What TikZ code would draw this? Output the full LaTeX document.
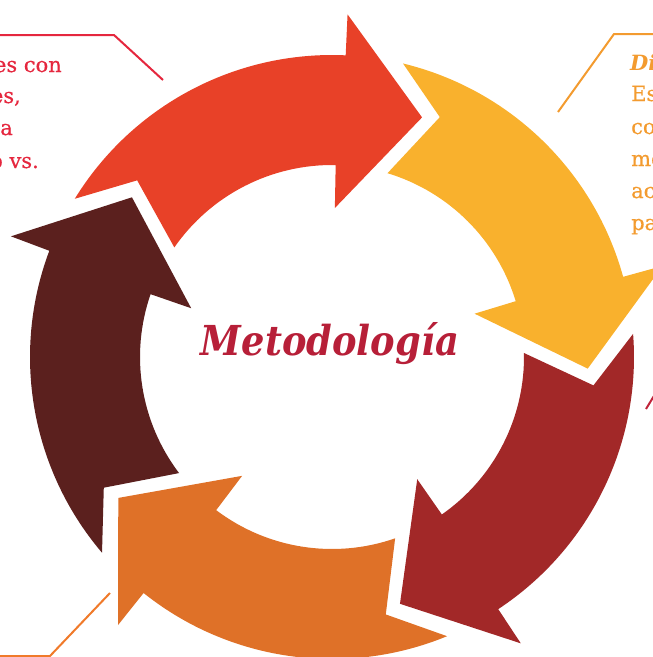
\documentclass[tikz,border=0pt]{standalone}
\usepackage{fontspec}
\setmainfont{DejaVu Serif}
\newfontface\bodyface{DejaVu Serif}[FakeBold=0.5]
\newfontface\bodyheadface{DejaVu Serif Bold Italic}
\definecolor{cRed}{HTML}{E84128}
\definecolor{cYellow}{HTML}{F9B12D}
\definecolor{cDarkRed}{HTML}{A22828}
\definecolor{cOrange}{HTML}{DF7128}
\definecolor{cBrown}{HTML}{5B201E}
\definecolor{cTitle}{HTML}{B71F38}
\definecolor{cPink}{HTML}{E5273E}
\definecolor{cAmber}{HTML}{F39B2F}
\definecolor{cLineOr}{HTML}{F07A2A}
\definecolor{cCrimson}{HTML}{C0243A}
\newcommand\cyclearrow[2]{%
  \fill[#2] (#1:302) arc[start angle=#1, end angle={#1-61}, radius=302]
    -- ({#1-61}:343) -- ({#1-79}:256) -- ({#1-59.5}:149) -- ({#1-59.5}:192)
    arc[start angle={#1-59.5}, end angle={#1-3.2}, radius=192]
    -- ({#1-10.6}:263) -- cycle;}
\begin{document}
\begin{tikzpicture}[x=1pt,y=1pt,
  bodytext/.style={font=\bodyface\fontsize{21}{32}\selectfont, inner sep=0pt},
  leader/.style={line width=2pt}]
\useasboundingbox (0,0) rectangle (653,-657);
\clip (0,0) rectangle (653,-657);
% cycle arrows
\begin{scope}[shift={(332,-357)}]
  \cyclearrow{148.4}{cRed}
  \cyclearrow{76.4}{cYellow}
  \cyclearrow{4.4}{cDarkRed}
  \cyclearrow{-67.6}{cOrange}
  \cyclearrow{-139.6}{cBrown}
\end{scope}
% title
\node[inner sep=0pt, anchor=base, text=cTitle] (title) at (330,-355)
  {\resizebox{258pt}{33pt}{\bfseries\itshape Metodología}};
% top-left text (cut at the left edge)
\node[bodytext, text=cPink, anchor=base east] (tl1) at (62,-72) {es con};
\node[bodytext, text=cPink, anchor=base east] (tl2) at (21,-103) {es,};
\node[bodytext, text=cPink, anchor=base east] (tl3) at (13,-135) {a};
\node[bodytext, text=cPink, anchor=base east] (tl4) at (39,-168) {o vs.};
% top-right text (cut at the right edge)
\node[bodytext, text=cAmber, anchor=base west] (tr1) at (630,-70) {\bodyheadface\fontsize{21}{32}\selectfont Di};
\node[bodytext, text=cAmber, anchor=base west] (tr2) at (631,-101) {Es};
\node[bodytext, text=cAmber, anchor=base west] (tr3) at (631,-134) {co};
\node[bodytext, text=cAmber, anchor=base west] (tr4) at (631,-166) {me};
\node[bodytext, text=cAmber, anchor=base west] (tr5) at (631,-198) {ac};
\node[bodytext, text=cAmber, anchor=base west] (tr6) at (631,-230) {pa};
% leader lines
\coordinate (tlA) at (-5,-35);
\coordinate (tlB) at (114,-35);
\coordinate (tlC) at (163,-80);
\draw[leader, cPink] (tlA) -- (tlB) -- (tlC);
\coordinate (trA) at (558,-112);
\coordinate (trB) at (614,-34);
\coordinate (trC) at (660,-34);
\draw[leader, cAmber] (trA) -- (trB) -- (trC);
\coordinate (rA) at (646,-409);
\coordinate (rB) at (660,-386);
\draw[leader, cCrimson] (rA) -- (rB);
\coordinate (blA) at (-5,-656);
\coordinate (blB) at (50,-656);
\coordinate (blC) at (110,-593);
\draw[leader, cLineOr] (blA) -- (blB) -- (blC);
\end{tikzpicture}
\end{document}
